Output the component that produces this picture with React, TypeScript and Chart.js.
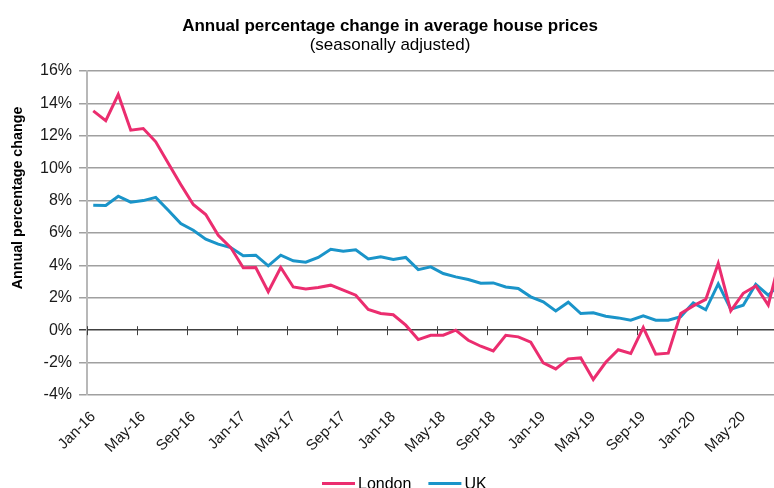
import React, { useEffect, useRef } from 'react';
import { Chart, registerables } from 'chart.js';

Chart.register(...registerables);

const months = [
  'Jan-16', 'Feb-16', 'Mar-16', 'Apr-16', 'May-16', 'Jun-16', 'Jul-16', 'Aug-16', 'Sep-16', 'Oct-16', 'Nov-16', 'Dec-16',
  'Jan-17', 'Feb-17', 'Mar-17', 'Apr-17', 'May-17', 'Jun-17', 'Jul-17', 'Aug-17', 'Sep-17', 'Oct-17', 'Nov-17', 'Dec-17',
  'Jan-18', 'Feb-18', 'Mar-18', 'Apr-18', 'May-18', 'Jun-18', 'Jul-18', 'Aug-18', 'Sep-18', 'Oct-18', 'Nov-18', 'Dec-18',
  'Jan-19', 'Feb-19', 'Mar-19', 'Apr-19', 'May-19', 'Jun-19', 'Jul-19', 'Aug-19', 'Sep-19', 'Oct-19', 'Nov-19', 'Dec-19',
  'Jan-20', 'Feb-20', 'Mar-20', 'Apr-20', 'May-20', 'Jun-20', 'Jul-20', 'Aug-20',
];

const london = [
  13.54, 12.94, 14.55, 12.35, 12.45, 11.63, 10.3, 9.0, 7.76, 7.14, 5.86, 5.1,
  3.85, 3.87, 2.37, 3.87, 2.67, 2.55, 2.63, 2.78, 2.47, 2.16, 1.28, 1.03,
  0.95, 0.31, -0.58, -0.31, -0.31, 0.0, -0.62, -0.99, -1.28, -0.31, -0.41, -0.74,
  -2.02, -2.39, -1.77, -1.71, -3.04, -1.98, -1.21, -1.44, 0.16, -1.48, -1.42, 1.03,
  1.5, 1.9, 4.12, 1.2, 2.28, 2.73, 1.55, 4.6,
];

const uk = [
  7.72, 7.7, 8.27, 7.9, 8.0, 8.2, 7.4, 6.58, 6.17, 5.62, 5.31, 5.1,
  4.59, 4.63, 3.97, 4.63, 4.28, 4.2, 4.49, 5.0, 4.88, 4.96, 4.4, 4.53,
  4.36, 4.49, 3.74, 3.91, 3.5, 3.29, 3.13, 2.9, 2.92, 2.67, 2.57, 2.06,
  1.75, 1.19, 1.73, 1.03, 1.07, 0.86, 0.76, 0.62, 0.88, 0.62, 0.62, 0.84,
  1.69, 1.26, 2.86, 1.3, 1.54, 2.83, 2.16, 2.9,
];

const seriesNames = ['London', 'UK'];
const seriesColors = ['#EB2D6F', '#1A94C9'];
const titleText = 'Annual percentage change in average house prices';
const subtitleText = '(seasonally adjusted)';
const yAxisTitle = 'Annual percentage change';
const yMin = -4;
const yMax = 16;
const yStep = 2;
const labelEvery = 4;

const FONT = "'Liberation Sans', Arial, sans-serif";

export default function App() {
  const canvasRef = useRef<HTMLCanvasElement>(null);

  useEffect(() => {
    const canvas = canvasRef.current;
    if (!canvas) return;

    const overlay = {
      id: 'overlay',
      beforeDatasetsDraw(chart: any) {
        const { ctx, scales } = chart;
        const xs = scales.x;
        const ys = scales.y;
        const y0 = ys.getPixelForValue(0);
        const step = xs.getPixelForValue(1) - xs.getPixelForValue(0);
        ctx.save();
        ctx.strokeStyle = '#404040';
        ctx.lineWidth = 1;
        for (let i = 0; i <= months.length; i += labelEvery) {
          const px = Math.round(xs.getPixelForValue(0) + (i - 0.5) * step) + 0.5;
          ctx.beginPath();
          ctx.moveTo(px, y0 - 4);
          ctx.lineTo(px, y0 + 5);
          ctx.stroke();
        }
        ctx.restore();
      },
      afterDraw(chart: any) {
        const { ctx } = chart;
        ctx.save();
        ctx.fillStyle = '#000000';
        ctx.textAlign = 'center';
        ctx.textBaseline = 'alphabetic';
        ctx.font = `bold 17px ${FONT}`;
        ctx.fillText(titleText, 390, 31);
        ctx.font = `17px ${FONT}`;
        ctx.fillText(subtitleText, 390, 50);

        // y axis title
        ctx.save();
        ctx.translate(18, 198);
        ctx.rotate(-Math.PI / 2);
        ctx.font = `bold 14.3px ${FONT}`;
        ctx.textBaseline = 'middle';
        ctx.fillText(yAxisTitle, 0, 0);
        ctx.restore();

        // legend
        ctx.font = `16px ${FONT}`;
        ctx.textAlign = 'left';
        ctx.textBaseline = 'alphabetic';
        let x = 322;
        const ly = 483.5;
        seriesNames.forEach((name, i) => {
          ctx.strokeStyle = seriesColors[i];
          ctx.lineWidth = 3;
          ctx.beginPath();
          ctx.moveTo(x, ly);
          ctx.lineTo(x + 33, ly);
          ctx.stroke();
          ctx.fillStyle = '#000000';
          ctx.fillText(name, x + 36, 489);
          x += 36 + ctx.measureText(name).width + 17;
        });
        ctx.restore();
      },
    };

    const chart = new Chart(canvas, {
      type: 'line',
      data: {
        labels: months,
        datasets: [
          {
            label: seriesNames[0],
            data: london,
            borderColor: seriesColors[0],
            backgroundColor: seriesColors[0],
            borderWidth: 3,
            pointRadius: 0,
            tension: 0,
          },
          {
            label: seriesNames[1],
            data: uk,
            borderColor: seriesColors[1],
            backgroundColor: seriesColors[1],
            borderWidth: 3,
            pointRadius: 0,
            tension: 0,
          },
        ],
      },
      options: {
        responsive: false,
        animation: false,
        events: [],
        layout: { padding: { top: 71, right: 13, left: 0, bottom: 0 } },
        plugins: {
          legend: { display: false },
          title: { display: false },
          tooltip: { enabled: false },
        },
        scales: {
          x: {
            type: 'category',
            offset: true,
            grid: { display: false, drawTicks: false },
            border: { display: false },
            ticks: {
              autoSkip: false,
              maxRotation: 45,
              minRotation: 45,
              padding: 13,
              color: '#1a1a1a',
              font: { family: FONT, size: 15 },
              callback: (_v: any, i: number) => (i % labelEvery === 0 ? months[i] : ''),
            },
            afterFit: (scale: any) => {
              scale.height = 105;
              scale.paddingLeft = 0;
              scale.paddingRight = 0;
            },
          },
          y: {
            min: yMin,
            max: yMax,
            ticks: {
              stepSize: yStep,
              padding: 7,
              color: '#1a1a1a',
              font: { family: FONT, size: 16 },
              callback: (v: any) => `${v}%`,
            },
            grid: {
              color: (c: any) => (c.tick && c.tick.value === 0 ? '#404040' : '#a0a0a0'),
              lineWidth: 1.5,
              tickLength: 8,
              drawTicks: true,
            },
            border: { display: true, color: '#b8b8b8', width: 2 },
            afterFit: (scale: any) => {
              scale.width = 87;
              scale.paddingTop = 0;
              scale.paddingBottom = 0;
            },
          },
        },
      },
      plugins: [overlay],
    });

    return () => chart.destroy();
  }, []);

  return (
    <div
      style={{
        position: 'fixed',
        left: 0,
        top: 0,
        width: 774,
        height: 488,
        overflow: 'hidden',
        background: '#ffffff',
      }}
    >
      <canvas ref={canvasRef} width={800} height={500} style={{ display: 'block' }} />
    </div>
  );
}
